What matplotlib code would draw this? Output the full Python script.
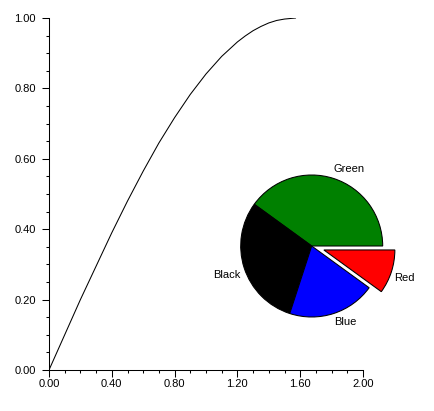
import matplotlib
matplotlib.use("Agg")
import matplotlib.pyplot as plt
from matplotlib.ticker import MultipleLocator

plt.rcParams['font.family'] = ['Liberation Sans', 'DejaVu Sans']
plt.rcParams['font.size'] = 8

# curve
curve_x = [0.0, 0.1, 0.2, 0.3, 0.4, 0.5, 0.6, 0.7, 0.8, 0.9, 1.0,
           1.1, 1.2, 1.25, 1.3, 1.35, 1.4, 1.45, 1.5, 1.57]
curve_y = [0.0, 0.10, 0.20, 0.295, 0.39, 0.48, 0.565, 0.645, 0.717, 0.783,
           0.841, 0.891, 0.932, 0.949, 0.964, 0.976, 0.986, 0.993, 0.997, 1.0]

# pie slices
pie_labels = ['Green', 'Black', 'Blue', 'Red']
pie_values = [40, 30, 20, 10]
pie_colors = ['#008000', '#000000', '#0000ff', '#ff0000']
pie_explode = [0, 0, 0, 0.18]
# label spots, in pie radius units
label_pos = [(0.53, 1.08), (-1.2, -0.41), (0.48, -1.07), (1.31, -0.45)]

W, H = 434, 411
fig = plt.figure(figsize=(W / 100, H / 100), dpi=100)
ax = fig.add_axes([49 / W, (H - 370) / H, 314 / W, 352 / H])

ax.plot(curve_x, curve_y, color='black', lw=0.75)
ax.set_xlim(0, 2)
ax.set_ylim(0, 1)
ax.xaxis.set_major_locator(MultipleLocator(0.4))
ax.xaxis.set_minor_locator(MultipleLocator(0.1))
ax.yaxis.set_major_locator(MultipleLocator(0.2))
ax.yaxis.set_minor_locator(MultipleLocator(0.05))
ax.xaxis.set_major_formatter(lambda v, p: f"{v:.2f}")
ax.yaxis.set_major_formatter(lambda v, p: f"{v:.2f}")
ax.tick_params(which='major', length=5, width=0.75, direction='out')
ax.tick_params(which='minor', length=2.3, width=0.75, direction='out')
ax.tick_params(axis='y', pad=4.5)
ax.tick_params(axis='x', pad=1.5)
for s in ['top', 'right']:
    ax.spines[s].set_visible(False)
for s in ['left', 'bottom']:
    ax.spines[s].set_linewidth(0.75)

# pie in its own square axes
cx, cy, r = 311.7, H - 246, 71
side = 220
pax = fig.add_axes([(cx - side / 2) / W, (cy - side / 2) / H, side / W, side / H])
lim = side / 2 / r
wedges, texts = pax.pie(pie_values, labels=pie_labels, colors=pie_colors,
                        explode=pie_explode, startangle=0, counterclock=True,
                        wedgeprops=dict(edgecolor='black', linewidth=0.75))
for t, pos in zip(texts, label_pos):
    t.set_position(pos)
    t.set_ha('center')
    t.set_va('center')
pax.set_xlim(-lim, lim)
pax.set_ylim(-lim, lim)
pax.set_aspect('equal')
pax.axis('off')

fig.savefig('out.png', dpi=100)
